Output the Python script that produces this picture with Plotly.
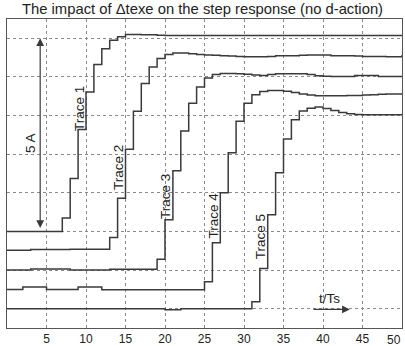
import plotly.graph_objects as go

# sample index t/Ts
t = list(range(0, 51))

trace1 = [2.0]*7 + [2.35, 3.37, 4.64, 5.61, 6.32, 6.73, 6.95, 7.04, 7.10, 7.10, 7.09, 7.09, 7.08, 7.07] + [7.07]*30
trace2 = [1.51]*3 + [1.53]*5 + [1.54]*5 + [1.84, 2.86, 4.13, 5.11, 5.83, 6.26, 6.48, 6.58, 6.62, 6.62, 6.60, 6.58,
          6.57, 6.56, 6.55, 6.54, 6.53, 6.52, 6.52, 6.52, 6.53, 6.55, 6.55, 6.55, 6.56, 6.57, 6.57, 6.57, 6.55,
          6.55, 6.55, 6.54, 6.53, 6.53, 6.53, 6.52, 6.52, 6.57, 6.58]
trace3 = [1.0]*3 + [1.03]*5 + [1.0]*5 + [1.02]*6 + [1.28, 2.30, 3.57, 4.60, 5.32, 5.74, 5.97, 6.06, 6.09, 6.09,
          6.08, 6.07, 6.05, 6.04, 6.06, 6.08, 6.08, 6.08, 6.08, 6.06, 6.03, 6.02, 6.01, 6.01, 6.01, 6.04,
          6.04, 6.04, 6.01, 6.01, 6.01, 6.01, 6.01]
trace4 = [0.50]*2 + [0.56]*3 + [0.50]*4 + [0.56]*3 + [0.49]*13 + [0.70, 1.71, 3.00, 4.04, 4.85, 5.32, 5.54, 5.62,
          5.65, 5.65, 5.63, 5.60, 5.56, 5.53, 5.51, 5.51, 5.51, 5.51, 5.52, 5.52, 5.53, 5.54, 5.55, 5.56,
          5.56, 5.56]
trace5 = [0.0]*20 + [-0.03]*2 + [0.0]*9 + [0.18, 1.04, 2.43, 3.52, 4.39, 4.89, 5.12, 5.19, 5.22, 5.18, 5.13,
          5.08, 5.05, 5.03, 5.02, 5.02, 5.02, 5.02, 5.02, 5.02]

series = [trace1, trace2, trace3, trace4, trace5]
x_ticks = [5, 10, 15, 20, 25, 30, 35, 40, 45]
x_tick_text = ["5", "10", "15", "20", "25", "30", "35", "40", "45"]
x_last_tick = 50
y_grid = [0, 1, 2, 3, 4, 5, 6, 7]

FONT = "Liberation Sans, Arial, sans-serif"
LINE = "#3a3a3a"
TXT = "#222222"

fig = go.Figure()
for s in series:
    fig.add_trace(go.Scatter(x=t, y=s, mode="lines", line=dict(shape="hv", color=LINE, width=1.5),
                             showlegend=False, hoverinfo="skip"))

labels = [("Trace 1", 9.1, 5.19), ("Trace 2", 14.05, 3.64), ("Trace 3", 20.0, 2.89),
          ("Trace 4", 26.14, 2.40), ("Trace 5", 32.03, 1.85)]
ann = []
for txt, x, y in labels:
    ann.append(dict(x=x, y=y, text=txt, showarrow=False, textangle=-90,
                    font=dict(family=FONT, size=13.5, color=TXT), xref="x", yref="y"))
ann.append(dict(x=3.04, y=4.29, text="5 A", showarrow=False, textangle=-90,
                font=dict(family=FONT, size=13.5, color=TXT)))
ann.append(dict(x=40.76, y=0.27, text="t/Ts", showarrow=False,
                font=dict(family=FONT, size=13.5, color=TXT)))
# last x tick label, kept inside the page edge
ann.append(dict(x=x_last_tick, xref="x", y=0, yref="paper", yshift=-12, yanchor="middle",
                xanchor="right", text=str(x_last_tick), showarrow=False, borderpad=0,
                font=dict(family=FONT, size=12, color=TXT)))
# double arrow 5 A
ann.append(dict(x=4.2, y=7.0, ax=4.2, ay=2.05, axref="x", ayref="y", xref="x", yref="y", text="",
                showarrow=True, arrowside="end+start", arrowhead=2, startarrowhead=2,
                arrowsize=1.3, startarrowsize=1.3, arrowwidth=1.2, arrowcolor=LINE))
# time arrow
ann.append(dict(x=43.4, y=-0.02, ax=38.6, ay=-0.02, axref="x", ayref="y", xref="x", yref="y", text="",
                showarrow=True, arrowhead=2, arrowsize=1.3, arrowwidth=1.2, arrowcolor=LINE))

fig.update_layout(
    width=405, height=346,
    margin=dict(l=7, r=3, t=19, b=18),
    paper_bgcolor="white", plot_bgcolor="white",
    title=dict(text="The impact of Δtexe on the step response (no d-action)",
               x=0.5, xanchor="center", y=1 - 8.5/346, yanchor="middle", yref="container",
               font=dict(family=FONT, size=14.8, color=TXT), automargin=False),
    annotations=ann,
)
fig.update_xaxes(range=[0, 50], tickvals=x_ticks, ticktext=x_tick_text, ticklabeloverflow="allow",
                 ticklabelstandoff=0, automargin=False, showgrid=True, gridcolor="#8a8a8a", griddash="dot",
                 gridwidth=1, showline=True, linecolor="#555555", linewidth=1, mirror=True,
                 zeroline=False, ticks="", tickfont=dict(family=FONT, size=12, color=TXT))
fig.update_yaxes(range=[-0.5, 7.5], tickvals=y_grid, showticklabels=False, showgrid=True, automargin=False,
                 gridcolor="#8a8a8a", griddash="dot", gridwidth=1, showline=True, linecolor="#555555",
                 linewidth=1, mirror=True, zeroline=False, ticks="")

fig.write_html("out.html", config={"displayModeBar": False},
               post_script="document.body.style.margin='0';document.body.style.overflow='hidden';")
